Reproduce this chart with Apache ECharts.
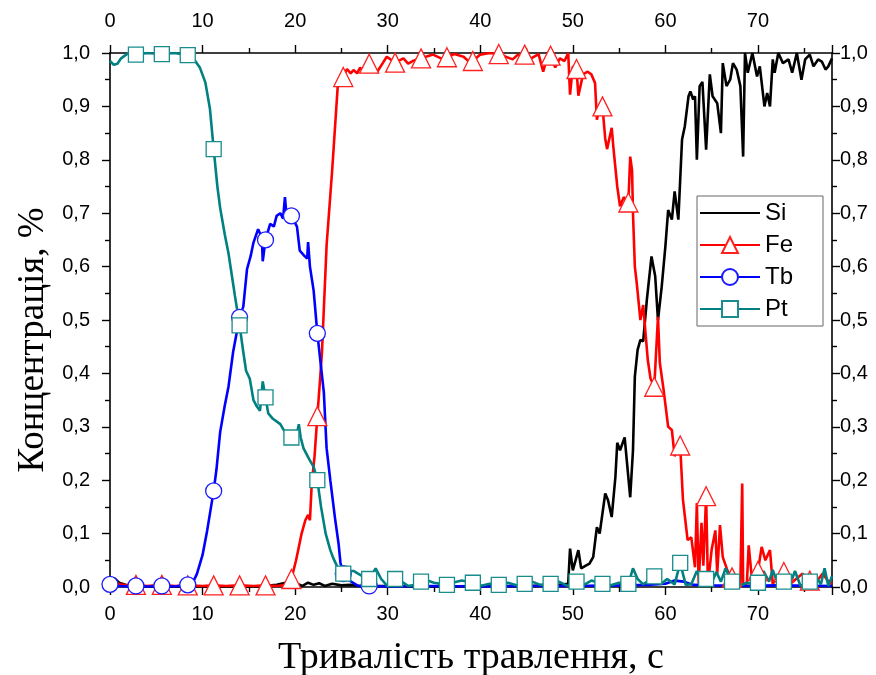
<!DOCTYPE html>
<html><head><meta charset="utf-8">
<script src="https://cdn.jsdelivr.net/npm/echarts@6.0.0/dist/echarts.min.js"></script>
<style>html,body{margin:0;padding:0;background:#fff}#c{width:876px;height:675px}</style>
</head><body><div id="c"></div>
<script>
const seriesNames = ['Si', 'Fe', 'Tb', 'Pt'];
const xTitle = 'Тривалість травлення, с';
const yTitle = 'Концентрація, %';
const markerStep = 2.8;

const siData = [[0,0.015],[0.5,0.016],[1,0.008],[1.5,0.005],[2,0.002],[4,0.001],[8,0.001],[12,0.001],[16,0.001],[18,0.004],[19,0.008],[19.6,0.003],[20.2,0.006],[20.8,0.002],[21.4,0.008],[22,0.004],[22.6,0.007],[23.2,0.002],[24,0.006],[25,0.003],[26,0.004],[27,0.002],[30,0.002],[35,0.001],[40,0.002],[45,0.002],[48,0.003],[49.5,0.006],[49.7,0.072],[50,0.031],[50.6,0.069],[50.9,0.035],[51.4,0.04],[51.8,0.044],[52.2,0.056],[52.6,0.112],[52.9,0.1],[53.5,0.175],[53.8,0.163],[54.2,0.131],[54.6,0.206],[54.8,0.27],[55.1,0.256],[55.6,0.28],[56.2,0.168],[56.5,0.256],[56.7,0.394],[57,0.444],[57.3,0.463],[57.6,0.46],[58,0.538],[58.5,0.619],[58.9,0.582],[59.2,0.5],[59.6,0.562],[60,0.638],[60.3,0.706],[60.7,0.688],[61,0.741],[61.4,0.688],[61.8,0.838],[62.1,0.863],[62.5,0.919],[62.7,0.928],[63,0.913],[63.2,0.919],[63.4,0.8],[63.7,0.938],[64,0.946],[64.4,0.819],[64.8,0.96],[65.1,0.919],[65.6,0.906],[66,0.85],[66.2,0.981],[66.6,0.938],[67,0.95],[67.3,0.981],[67.7,0.969],[68.1,0.938],[68.4,0.806],[68.6,1.0],[68.9,0.963],[69.4,1.0],[69.9,0.956],[70.2,0.975],[70.7,0.9],[71,0.925],[71.3,0.9],[71.6,0.988],[71.8,0.963],[72.2,1.0],[72.7,0.981],[73.3,0.988],[73.7,0.963],[74.2,1.0],[74.7,0.95],[75.1,0.988],[75.6,0.997],[76,0.975],[76.5,0.988],[76.9,0.984],[77.3,0.969],[77.6,0.975],[78,0.99]];

const feData = [[0,0.012],[0.4,0.015],[1,0.005],[2,0.003],[2.8,0.004],[4,0.002],[5.6,0.004],[7,0.002],[8.4,0.003],[10,0.002],[11.2,0.003],[12.5,0.002],[14,0.003],[15.5,0.002],[16.8,0.003],[18,0.002],[19,0.004],[19.6,0.015],[20.1,0.05],[20.4,0.075],[20.7,0.1],[21.1,0.125],[21.4,0.135],[21.6,0.125],[21.8,0.195],[22.1,0.245],[22.4,0.32],[22.7,0.39],[22.9,0.44],[23.4,0.64],[24,0.78],[24.6,0.937],[25.2,0.955],[25.6,0.97],[26,0.962],[26.3,0.968],[26.7,0.962],[27,0.972],[27.4,0.968],[28,0.98],[28.4,0.975],[28.8,0.963],[29.5,0.982],[29.9,0.993],[30.8,0.982],[31.7,0.99],[32.2,0.98],[32.7,0.985],[33.6,0.99],[34.9,0.997],[36,0.988],[36.4,0.992],[37.2,0.998],[38.2,0.993],[38.9,0.982],[39.2,0.985],[40,0.997],[41,1.0],[42,0.998],[43.5,0.988],[44,0.996],[44.8,0.997],[45.5,0.99],[46.3,0.998],[46.8,0.965],[47.2,0.99],[47.6,0.995],[48.1,0.973],[48.6,0.99],[49.1,0.985],[49.5,1.0],[49.7,0.922],[50,0.975],[50.4,0.97],[50.6,0.92],[51.1,0.96],[51.6,0.965],[52,0.96],[52.4,0.944],[52.6,0.875],[52.9,0.9],[53.2,0.9],[53.5,0.84],[53.7,0.82],[54.2,0.86],[54.4,0.82],[54.8,0.75],[55.1,0.713],[55.5,0.73],[56,0.72],[56.2,0.806],[56.4,0.78],[56.5,0.7],[56.7,0.6],[56.9,0.57],[57.3,0.5],[57.6,0.528],[58.1,0.425],[58.4,0.39],[58.8,0.375],[59.2,0.506],[59.4,0.42],[59.8,0.37],[60.3,0.3],[60.7,0.294],[61,0.245],[61.6,0.265],[61.9,0.163],[62.4,0.088],[62.8,0.093],[63.2,0.037],[63.4,0.157],[63.6,0.006],[63.9,0.12],[64.1,0.04],[64.4,0.17],[64.6,0.005],[65,0.07],[65.4,0.106],[65.6,0.025],[65.9,0.116],[66.2,0.056],[66.7,0.031],[67.2,0.018],[67.5,0.006],[68.1,0.006],[68.3,0.194],[68.4,0.006],[68.8,0.006],[69,0.078],[69.4,0.006],[70,0.03],[70.4,0.075],[70.8,0.05],[71.3,0.069],[71.6,0.006],[72.4,0.025],[72.8,0.028],[73.5,0.006],[74.8,0.025],[75.3,0.018],[75.6,0.012],[76.4,0.012],[77,0.025],[77.8,0.006],[78,0.01]];

const tbData = [[0,0.005],[1,0.002],[2,0.001],[2.8,0.002],[4,0.001],[5.6,0.002],[7,0.001],[8.4,0.004],[9,0.01],[9.4,0.025],[10,0.06],[10.5,0.106],[11.2,0.18],[11.5,0.22],[11.9,0.29],[12.4,0.34],[12.8,0.375],[13.3,0.44],[14,0.505],[14.4,0.525],[14.8,0.595],[15.2,0.62],[15.5,0.645],[16,0.67],[16.4,0.655],[16.5,0.61],[16.8,0.65],[17.3,0.68],[17.7,0.675],[18,0.695],[18.4,0.7],[18.7,0.69],[18.9,0.73],[19.1,0.69],[19.6,0.695],[20.2,0.675],[20.5,0.63],[21,0.62],[21.3,0.615],[21.4,0.646],[21.6,0.6],[22,0.555],[22.4,0.475],[23.1,0.365],[23.4,0.26],[23.8,0.2],[24.3,0.13],[24.7,0.08],[24.9,0.045],[25.2,0.025],[25.6,0.015],[26.8,0.002],[28,0.002],[30,0.001],[35,0.002],[40,0.001],[45,0.002],[50,0.002],[55,0.003],[58,0.004],[60,0.006],[61,0.012],[62,0.01],[63,0.004],[65,0.003],[68,0.002],[72,0.003],[78,0.002]];

const ptData = [[0,0.985],[0.4,0.978],[0.8,0.98],[1.2,0.99],[1.6,0.995],[2,1.0],[2.8,0.997],[4,1.0],[5.6,0.998],[7,1.0],[8.4,0.996],[9,0.99],[9.7,0.973],[10.3,0.945],[10.8,0.895],[11.2,0.82],[11.6,0.75],[11.9,0.71],[12.4,0.66],[12.8,0.625],[13.5,0.545],[14,0.49],[14.4,0.44],[14.7,0.405],[15.1,0.39],[15.5,0.35],[15.8,0.34],[16.2,0.33],[16.5,0.385],[16.8,0.355],[17.1,0.325],[17.6,0.315],[18.4,0.305],[18.9,0.29],[19.6,0.28],[20,0.27],[20.4,0.305],[20.6,0.28],[20.9,0.26],[21.5,0.24],[22,0.225],[22.4,0.2],[22.8,0.15],[23.3,0.1],[23.8,0.069],[24.1,0.055],[24.5,0.04],[24.9,0.028],[25.2,0.025],[25.8,0.03],[26.3,0.03],[26.8,0.025],[27.3,0.02],[28,0.015],[28.7,0.035],[29.3,0.015],[30,0.001],[30.8,0.015],[31.5,0.01],[32.2,0.002],[33,0.004],[33.6,0.01],[34.3,0.012],[35,0.008],[36.4,0.004],[37,0.008],[38,0.012],[39.2,0.008],[40,0.002],[41,0.006],[42,0.004],[43,0.008],[44,0.003],[44.8,0.006],[45.6,0.01],[46.5,0.004],[47.6,0.006],[48.5,0.01],[49.4,0.002],[50.4,0.01],[51.2,0.004],[52,0.012],[53.2,0.006],[54,0.003],[55,0.008],[56,0.006],[56.5,0.035],[57,0.015],[57.6,0.005],[58.2,0.012],[58.8,0.02],[59.5,0.005],[60.2,0.015],[61,0.005],[61.6,0.045],[62.2,0.004],[62.8,0.005],[63.4,0.03],[64,0.008],[64.4,0.015],[65,0.008],[65.5,0.028],[66,0.01],[66.5,0.035],[67.2,0.01],[68,0.002],[68.8,0.008],[69.5,0.005],[70,0.008],[70.6,0.03],[71.2,0.01],[71.6,0.032],[72.2,0.002],[72.8,0.01],[73.5,0.006],[74,0.03],[74.6,0.002],[75.6,0.01],[76.2,0.02],[76.8,0.005],[77.2,0.035],[77.6,0.002],[78,0.02]];

function markSize(size, firstK) {
  return function (val) {
    const k = val[0] / markerStep;
    const r = Math.round(k);
    return (Math.abs(k - r) < 0.005 && r >= firstK) ? size : 0;
  };
}

const sans = 'Liberation Sans, Arial, sans-serif';
const serif = 'Liberation Serif, Times New Roman, serif';
const axisCommon = {
  min: 0,
  axisLine: { show: true, onZero: false, lineStyle: { color: '#000', width: 1.6 } },
  axisTick: { show: true, inside: false, length: 8, lineStyle: { color: '#000', width: 1.4 } },
  minorTick: { show: true, splitNumber: 2, length: 5, lineStyle: { color: '#000', width: 1.4 } },
  splitLine: { show: false },
  axisLabel: { color: '#000', fontSize: 20, fontFamily: sans }
};
const xFmt = v => String(v);
const yFmt = v => v.toFixed(1).replace('.', ',');

const chart = echarts.init(document.getElementById('c'), null, { renderer: 'canvas' });
chart.setOption({
  animation: false,
  backgroundColor: '#fff',
  grid: { left: 110, right: 44, top: 53, bottom: 88, outerBoundsMode: 'none', containLabel: false },
  legend: {
    orient: 'vertical', left: 697, top: 196,
    itemWidth: 60, itemHeight: 20, itemGap: 8,
    padding: [5, 30, 5, 2],
    borderColor: '#666', borderWidth: 1, backgroundColor: '#fff',
    textStyle: { color: '#000', fontSize: 24, fontFamily: sans },
    data: [{ name: 'Si', itemStyle: { opacity: 0 } }, 'Fe', 'Tb', 'Pt']
  },
  xAxis: [
    Object.assign({}, axisCommon, { type: 'value', position: 'bottom', max: 78, interval: 10,
      axisLabel: Object.assign({}, axisCommon.axisLabel, { formatter: xFmt, margin: 17, showMaxLabel: false }),
      name: xTitle, nameLocation: 'middle', nameGap: 52,
      nameTextStyle: { color: '#000', fontSize: 38, fontFamily: serif } }),
    Object.assign({}, axisCommon, { type: 'value', position: 'top', max: 78, interval: 10,
      axisLabel: Object.assign({}, axisCommon.axisLabel, { formatter: xFmt, margin: 22, showMaxLabel: false }) })
  ],
  yAxis: [
    Object.assign({}, axisCommon, { type: 'value', position: 'left', max: 1, interval: 0.1,
      axisLabel: Object.assign({}, axisCommon.axisLabel, { formatter: yFmt, margin: 20 }),
      name: yTitle, nameLocation: 'middle', nameGap: 58,
      nameTextStyle: { color: '#000', fontSize: 37, fontFamily: serif, padding: [0, 40, 0, 0] } }),
    Object.assign({}, axisCommon, { type: 'value', position: 'right', max: 1, interval: 0.1,
      axisLabel: Object.assign({}, axisCommon.axisLabel, { formatter: yFmt, margin: 8 }) })
  ],
  series: [
    { name: 'Si', type: 'line', data: siData, symbol: 'none', showSymbol: false,
      lineStyle: { color: '#000', width: 2.6 }, itemStyle: { color: '#000' } },
    { name: 'Fe', type: 'line', data: feData, symbol: 'triangle', symbolSize: markSize(19, 1),
      lineStyle: { color: '#ff0000', width: 2.6 },
      itemStyle: { color: '#fff', borderColor: '#ff2020', borderWidth: 1.3 } },
    { name: 'Tb', type: 'line', data: tbData, symbol: 'circle', symbolSize: markSize(16, 0),
      lineStyle: { color: '#0000ff', width: 2.6 },
      itemStyle: { color: '#fff', borderColor: '#1a1aff', borderWidth: 1.3 } },
    { name: 'Pt', type: 'line', data: ptData, symbol: 'rect', symbolSize: markSize(15, 1),
      lineStyle: { color: '#008080', width: 2.6 },
      itemStyle: { color: '#fff', borderColor: '#1a8c8c', borderWidth: 1.3 } }
  ]
});
</script></body></html>
